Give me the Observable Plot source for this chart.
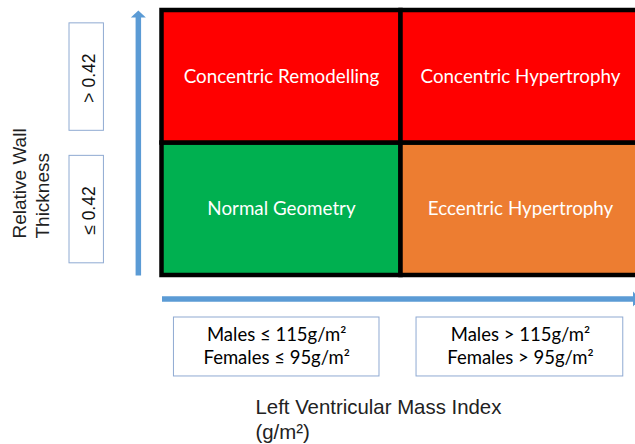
<!DOCTYPE html>
<html>
<head>
<meta charset="utf-8">
<script src="https://cdn.jsdelivr.net/npm/d3@7"></script>
<script src="https://cdn.jsdelivr.net/npm/@observablehq/plot@0.6"></script>
<style>
  html, body { margin: 0; padding: 0; background: #fff; }
  #chart { width: 635px; height: 444px; overflow: hidden; }
</style>
</head>
<body>
<div id="chart"></div>
<script>
// ---------------- DATA ----------------
const geometry = ["Normal Geometry", "Eccentric Hypertrophy", "Concentric Remodelling", "Concentric Hypertrophy"];
const geometryCol = [0, 1, 0, 1];   // LVMI category index
const geometryRow = [0, 0, 1, 1];   // RWT category index
const rwtLabels = ["≤ 0.42", "> 0.42"];
const lvmiMales = ["Males ≤ 115g/m²", "Males > 115g/m²"];
const lvmiFemales = ["Females ≤ 95g/m²", "Females > 95g/m²"];
const yTitle = ["Relative Wall", "Thickness"];
const xTitle = ["Left Ventricular Mass Index", "(g/m²)"];

// ---------------- STYLE / LAYOUT ----------------
const geometryColors = ["#00B050", "#ED7D31", "#FF0000", "#FF0000"];
const arrowBlue = "#5B9BD5";
const boxStroke = "#8FAAD2";
const calibriLike = "Lato, 'Open Sans', sans-serif";
const arialLike = "'Liberation Sans', Arial, sans-serif";

const cells = geometry.map((name, i) => ({name, col: geometryCol[i], row: geometryRow[i]}));

// flat arrow head symbol (pointing up)
const arrowHead = {
  draw(ctx) {
    ctx.moveTo(0, -3.5);
    ctx.lineTo(7.5, 3.5);
    ctx.lineTo(-7.5, 3.5);
    ctx.closePath();
  }
};

const yArrowX = -0.099, xArrowY = -0.177;

const chart = Plot.plot({
  width: 635,
  height: 444,
  margin: 0,
  style: {background: "white", overflow: "visible"},
  x: {domain: [0, 2], range: [161.5, 639.5], axis: null},
  y: {domain: [0, 2], range: [275, 10], axis: null},
  color: {domain: geometry, range: geometryColors},
  marks: [
    // quadrant cells
    Plot.rect(cells, {
      x1: "col", x2: d => d.col + 1, y1: "row", y2: d => d.row + 1,
      fill: "name", stroke: "black", strokeWidth: 4.5
    }),
    Plot.text(cells, {
      x: d => d.col + 0.5, y: d => d.row + 0.5, text: "name",
      fill: "white", fontSize: 18.8, fontFamily: calibriLike
    }),
    // axis arrows
    Plot.link([0], {x1: yArrowX, x2: yArrowX, y1: 0, y2: 1.97, stroke: arrowBlue, strokeWidth: 5.5}),
    Plot.dot([0], {x: yArrowX, y: 2, dy: 3.5, symbol: arrowHead, fill: arrowBlue, stroke: null}),
    Plot.link([0], {x1: 0, x2: 1.985, y1: xArrowY, y2: xArrowY, stroke: arrowBlue, strokeWidth: 5.5}),
    Plot.dot([0], {x: 2, y: xArrowY, dx: -3.5, rotate: 90, symbol: arrowHead, fill: arrowBlue, stroke: null}),
    // RWT category boxes
    Plot.rect(rwtLabels, {
      x1: -0.387, x2: -0.243, y1: (d, i) => i + 0.092, y2: (d, i) => i + 0.903,
      fill: "white", stroke: boxStroke, strokeWidth: 1
    }),
    Plot.text(rwtLabels, {
      x: -0.302, y: (d, i) => i + 0.49, text: d => d, rotate: -90,
      fill: "#111", fontSize: 17.5, fontFamily: arialLike
    }),
    // LVMI category boxes
    Plot.rect(lvmiMales, {
      x1: (d, i) => i + 0.05 + 0.015 * i, x2: (d, i) => i + 0.91 + 0.02 * i, y1: -0.317, y2: -0.762,
      fill: "white", stroke: boxStroke, strokeWidth: 1
    }),
    Plot.text(lvmiMales, {
      x: (d, i) => i + 0.48 + 0.02 * i, y: -0.453, text: d => d,
      fill: "black", fontSize: 18.5, fontFamily: calibriLike
    }),
    Plot.text(lvmiFemales, {
      x: (d, i) => i + 0.48 + 0.02 * i, y: -0.626, text: d => d,
      fill: "black", fontSize: 18.5, fontFamily: calibriLike
    }),
    // axis titles
    Plot.text([yTitle.join("\n")], {
      x: -0.553, y: 0.279, text: d => d, rotate: -90, textAnchor: "start",
      lineAnchor: "middle", lineHeight: 1.2, fill: "#222", fontSize: 19, fontFamily: arialLike
    }),
    Plot.text([xTitle.join("\n")], {
      x: 0.391, y: -1.079, text: d => d, textAnchor: "start",
      lineAnchor: "middle", lineHeight: 1.23, fill: "#222", fontSize: 20.4, fontFamily: arialLike
    })
  ]
});

document.getElementById("chart").appendChild(chart);
</script>
</body>
</html>
